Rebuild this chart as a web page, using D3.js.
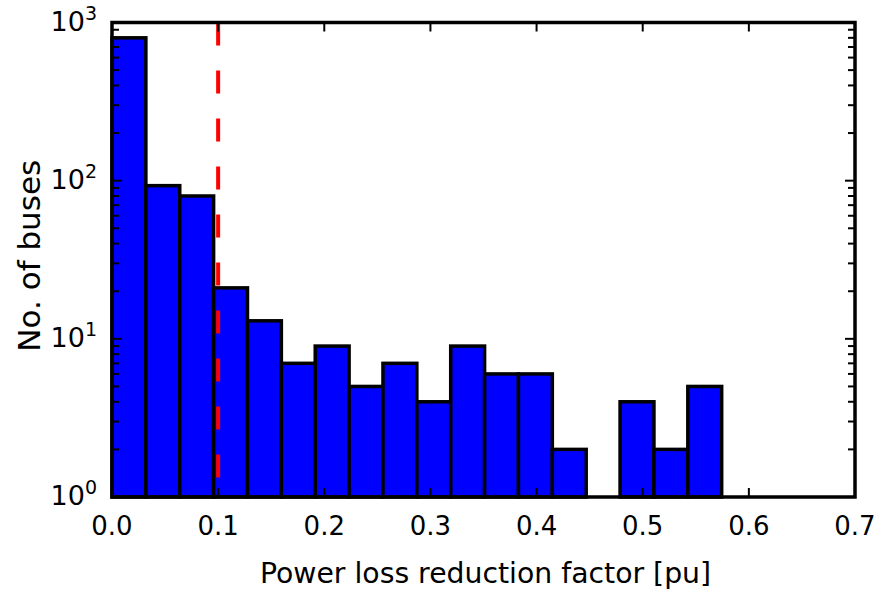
<!doctype html>
<html>
<head>
  <script src="https://d3js.org/d3.v7.min.js"></script>
  <style>
    body { margin: 0; background: #fff; }
    text { font-family: "DejaVu Sans", sans-serif; fill: #000; }
  </style>
</head>
<body>
  <script>

    // histogram counts per bin (log y)
    var counts = [800, 93, 80, 21, 13, 7, 9, 5, 7, 4, 9, 6, 6, 2, 0, 4, 2, 5];
    var binRange = [0, 0.5744];
    var xTicks = [0.0, 0.1, 0.2, 0.3, 0.4, 0.5, 0.6, 0.7];
    var yTicks = [1, 10, 100, 1000];
    var threshold = 0.1;

    var width = 879, height = 590;
    var mLeft = 112, mRight = 855, mTop = 22.5, mBottom = 497;

    var svg = d3.select("body")
      .append("svg")
      .attr("width", width)
      .attr("height", height);

    var x = d3.scaleLinear().domain([0, 0.7]).range([mLeft, mRight]);
    var y = d3.scaleLog().domain([1, 1000]).range([mBottom, mTop]);

    var binW = (binRange[1] - binRange[0]) / counts.length;
    var bins = counts.map(function (c, i) {
      return { x0: binRange[0] + i * binW, x1: binRange[0] + (i + 1) * binW, n: c };
    });

    // bars
    svg.append("g")
      .selectAll("rect")
      .data(bins.filter(function (d) { return d.n > 0; }))
      .enter()
      .append("rect")
      .attr("x", function (d) { return x(d.x0); })
      .attr("width", function (d) { return x(d.x1) - x(d.x0); })
      .attr("y", function (d) { return y(d.n); })
      .attr("height", function (d) { return y(1) - y(d.n); })
      .attr("fill", "#0000ff")
      .attr("stroke", "#000")
      .attr("stroke-width", 3.5);

    // threshold line
    svg.append("line")
      .attr("x1", x(threshold)).attr("x2", x(threshold))
      .attr("y1", mTop).attr("y2", mBottom)
      .attr("stroke", "#ff0000")
      .attr("stroke-width", 4)
      .attr("stroke-dasharray", "23,25");

    // ticks, inward on all four sides
    var tk = svg.append("g").attr("stroke", "#000").attr("stroke-width", 2);
    xTicks.forEach(function (t) {
      tk.append("line").attr("x1", x(t)).attr("x2", x(t)).attr("y1", mBottom).attr("y2", mBottom - 9);
      tk.append("line").attr("x1", x(t)).attr("x2", x(t)).attr("y1", mTop).attr("y2", mTop + 9);
    });
    var minor = [];
    yTicks.slice(0, -1).forEach(function (d) {
      d3.range(2, 10).forEach(function (m) { minor.push(d * m); });
    });
    yTicks.forEach(function (t) {
      tk.append("line").attr("x1", mLeft).attr("x2", mLeft + 10).attr("y1", y(t)).attr("y2", y(t));
      tk.append("line").attr("x1", mRight).attr("x2", mRight - 10).attr("y1", y(t)).attr("y2", y(t));
    });
    minor.forEach(function (t) {
      tk.append("line").attr("x1", mLeft).attr("x2", mLeft + 7).attr("y1", y(t)).attr("y2", y(t));
      tk.append("line").attr("x1", mRight).attr("x2", mRight - 7).attr("y1", y(t)).attr("y2", y(t));
    });

    // frame
    svg.append("rect")
      .attr("x", mLeft).attr("y", mTop)
      .attr("width", mRight - mLeft).attr("height", mBottom - mTop)
      .attr("fill", "none")
      .attr("stroke", "#000")
      .attr("stroke-width", 3.5);

    // tick labels
    svg.append("g")
      .selectAll("text")
      .data(xTicks)
      .enter()
      .append("text")
      .attr("x", function (d) { return x(d); })
      .attr("y", 535)
      .attr("text-anchor", "middle")
      .attr("font-size", 26)
      .text(function (d) { return d.toFixed(1); });

    var yl = svg.append("g")
      .selectAll("text")
      .data(yTicks)
      .enter()
      .append("text")
      .attr("x", 97)
      .attr("y", function (d) { return y(d) + 8; })
      .attr("text-anchor", "end")
      .attr("font-size", 27);
    yl.append("tspan").text("10");
    yl.append("tspan")
      .attr("dy", -11)
      .attr("font-size", 19)
      .text(function (d) { return Math.round(Math.log10(d)); });

    // axis titles
    svg.append("text")
      .attr("x", (mLeft + mRight) / 2 + 2)
      .attr("y", 583)
      .attr("text-anchor", "middle")
      .attr("font-size", 28.3)
      .text("Power loss reduction factor [pu]");

    svg.append("text")
      .attr("transform", "translate(40," + ((mTop + mBottom) / 2 - 4) + ") rotate(-90)")
      .attr("text-anchor", "middle")
      .attr("font-size", 31)
      .text("No. of buses");

  </script>
</body>
</html>
